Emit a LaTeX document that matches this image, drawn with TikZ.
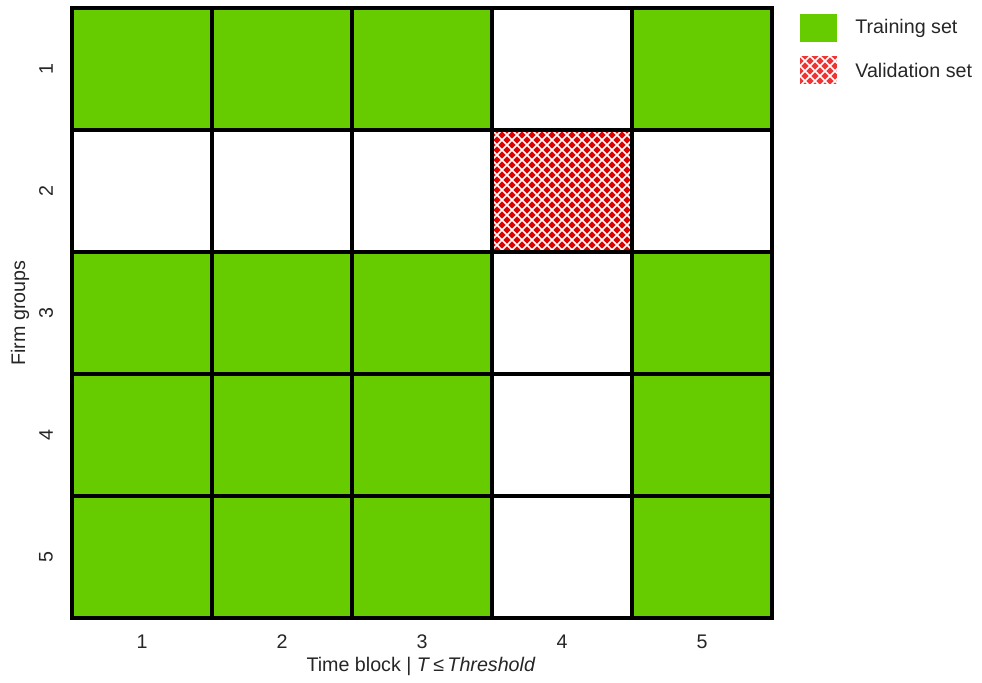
\documentclass[tikz,border=0pt]{standalone}
\usepackage{fontspec}
\setmainfont{Liberation Sans}
\usetikzlibrary{positioning}
\definecolor{traingreen}{HTML}{66CC00}
\definecolor{validred}{HTML}{DD0000}
\definecolor{legendred}{HTML}{EE3535}
\definecolor{labelgray}{HTML}{262626}
% hatched box: x1,y1,x2,y2,fill colour
\newcommand{\hatchbox}[5]{\begin{scope}
  \fill[#5] (#1,#2) rectangle (#3,#4);
  \clip (#1,#2) rectangle (#3,#4);
  \foreach \k in {-16,...,32}{
    \draw[white,line width=0.9pt] ({#1+10*\k},#2) -- ++(160,160);
    \draw[white,line width=0.9pt] ({#1+10*\k},#2) -- ++(-160,160);}
  \end{scope}}

\begin{document}
\begin{tikzpicture}[x=0.02cm,y=-0.02cm,font=\fontsize{11.2}{13}\selectfont,
  gridline/.style={line width=2.2pt,black,line cap=rect},
  ticklabel/.style={text=labelgray,inner sep=0pt},
  legendtext/.style={text=labelgray,anchor=west,inner sep=0pt}]
\useasboundingbox (0,0) rectangle (982,682);
% training cells
\foreach \r in {1,3,4,5}
  \foreach \c in {1,2,3,5}
    \fill[traingreen] ({72+140*(\c-1)},{8+122*(\r-1)}) rectangle ++(140,122);
% validation cell
\hatchbox{492}{130}{632}{252}{validred}
% grid
\foreach \x in {72,212,352,492,632,772}
  \draw[gridline] (\x,8) -- (\x,618);
\foreach \y in {8,130,252,374,496,618}
  \draw[gridline] (72,\y) -- (772,\y);
% ticks
\foreach \c in {1,...,5}
  \node[ticklabel] (xtick-\c) at ({2+140*\c},642) {\c};
\foreach \r in {1,...,5}
  \node[ticklabel,rotate=90] (ytick-\r) at (46,{122*\r-53}) {\r};
\node[ticklabel] (xlabel) at (421,666) {Time block | \textit{T}\,≤\,\textit{Threshold}};
\node[ticklabel,rotate=90] (ylabel) at (20,313) {Firm groups};
% legend
\fill[traingreen] (800,14) rectangle (837,42);
\node[legendtext] (leg-train) at (855,28) {Training set};
\hatchbox{800}{56}{837}{84}{legendred}
\node[legendtext] (leg-valid) at (855,70) {Validation set};
\end{tikzpicture}
\end{document}
